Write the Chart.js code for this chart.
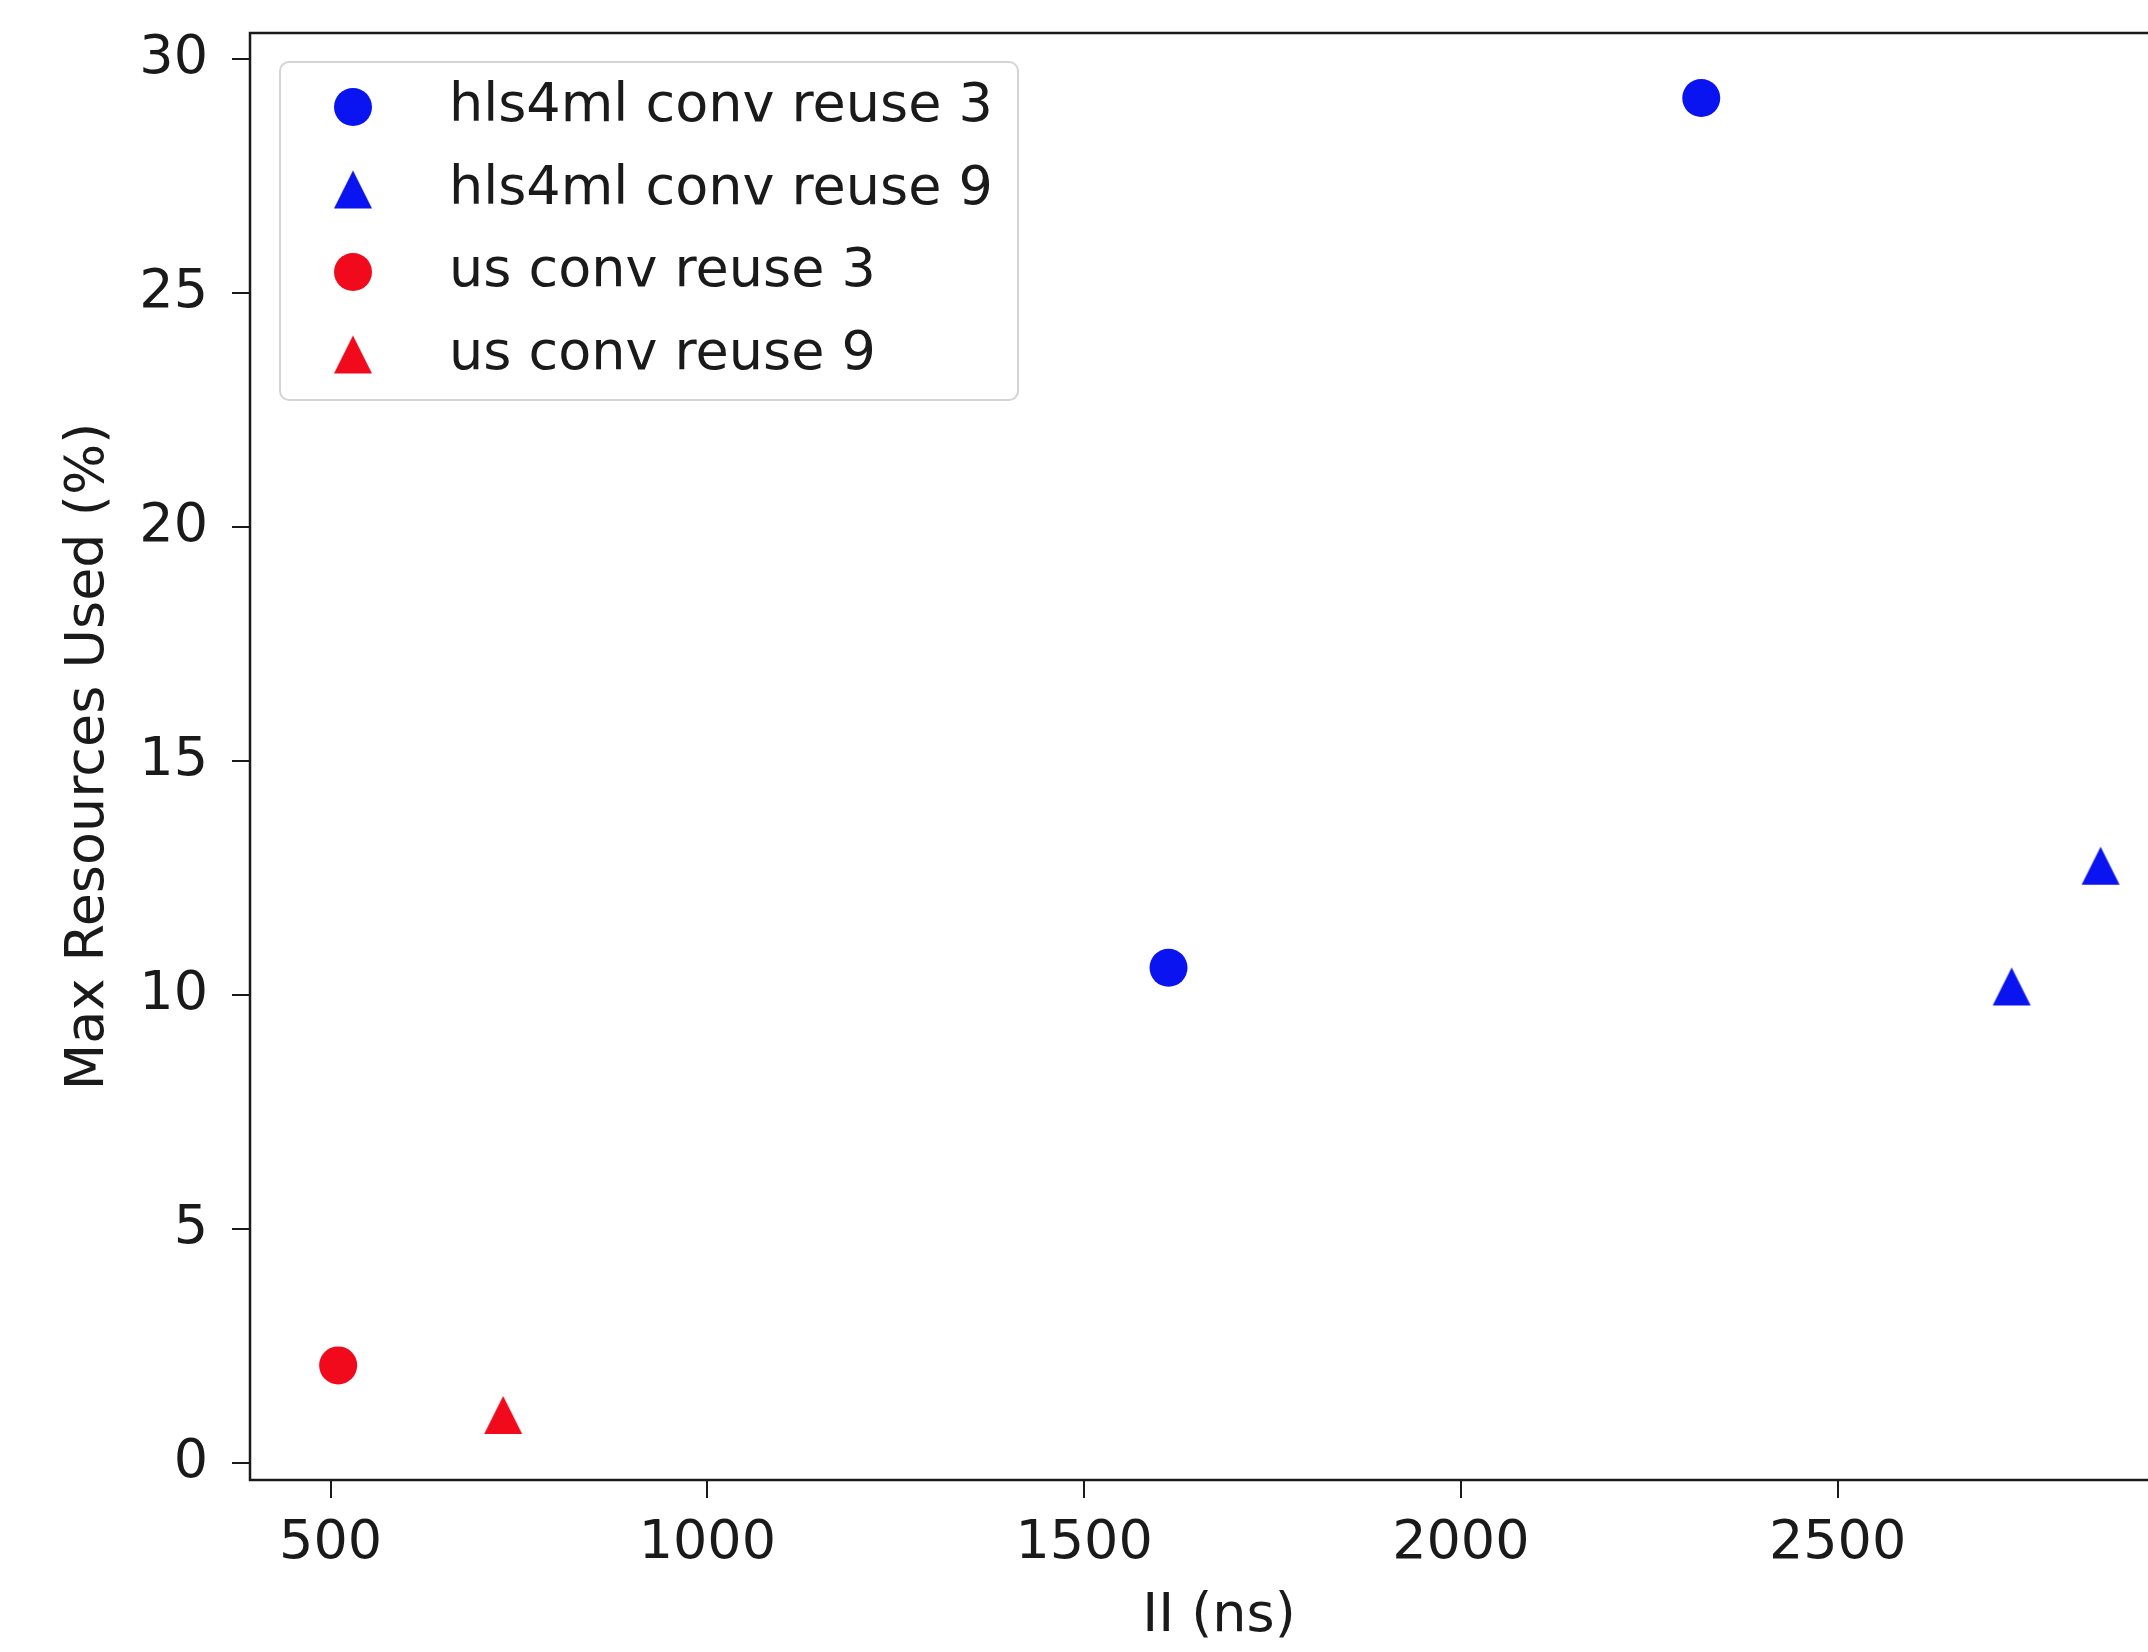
<!DOCTYPE html>
<html>
<head>
<meta charset="utf-8">
<script src="https://cdn.jsdelivr.net/npm/chart.js@4.4.0/dist/chart.umd.min.js"></script>
<style>
  html, body { margin: 0; padding: 0; background: #fff; overflow: hidden; }
  #wrap { width: 2148px; height: 1652px; overflow: hidden; }
  canvas { display: block; }
</style>
</head>
<body>
<div id="wrap"><canvas id="resources-chart" width="2260" height="1652"></canvas></div>
<script>
// values
const hlsReuse3X = [1612, 2319];
const hlsReuse3Y = [10.58, 29.17];
const hlsReuse9X = [2731, 2849];
const hlsReuse9Y = [10.18, 12.76];
const usReuse3X = [510];
const usReuse3Y = [2.08];
const usReuse9X = [729];
const usReuse9Y = [1.02];

const seriesLabels = ['hls4ml conv reuse 3', 'hls4ml conv reuse 9', 'us conv reuse 3', 'us conv reuse 9'];
const xTicks = [500, 1000, 1500, 2000, 2500];
const yTicks = [0, 5, 10, 15, 20, 25, 30];
const xTitle = 'II (ns)';
const yTitle = 'Max Resources Used (%)';

const blue = '#0a14f0';
const red = '#f00a1c';
const ink = '#1a1a1a';
const fontFamily = 'DejaVu Sans';
const fontSize = 54;

// matplotlib style '^' marker: as tall as it is wide, centred on the point
function makeTriangle(color) {
    const c = document.createElement('canvas');
    c.width = 40;
    c.height = 40;
    const g = c.getContext('2d');
    g.fillStyle = color;
    g.beginPath();
    g.moveTo(20, 1);
    g.lineTo(39, 39);
    g.lineTo(1, 39);
    g.closePath();
    g.fill();
    return c;
}

const toPoints = (xs, ys) => xs.map((x, i) => ({ x: x, y: ys[i] }));

const datasets = [
    { label: seriesLabels[0], data: toPoints(hlsReuse3X, hlsReuse3Y), pointStyle: 'circle', backgroundColor: blue },
    { label: seriesLabels[1], data: toPoints(hlsReuse9X, hlsReuse9Y), pointStyle: makeTriangle(blue), backgroundColor: blue },
    { label: seriesLabels[2], data: toPoints(usReuse3X, usReuse3Y), pointStyle: 'circle', backgroundColor: red },
    { label: seriesLabels[3], data: toPoints(usReuse9X, usReuse9Y), pointStyle: makeTriangle(red), backgroundColor: red },
].map(ds => Object.assign(ds, { pointRadius: 19, pointHoverRadius: 19, borderWidth: 0, showLine: false }));

// box round the plot area (matplotlib spines)
const frame = {
    id: 'frame',
    afterDraw(chart) {
        const { ctx, chartArea: a } = chart;
        ctx.save();
        ctx.strokeStyle = ink;
        ctx.lineWidth = 2.5;
        ctx.strokeRect(a.left, a.top, a.right - a.left, a.bottom - a.top);
        ctx.restore();
    }
};

// legend drawn inside the axes, upper left
const innerLegend = {
    id: 'innerLegend',
    afterDraw(chart) {
        const { ctx, chartArea: a } = chart;
        const left = a.left + 30;
        const top = a.top + 29;
        const width = 738;
        const rowH = 82.5;
        const height = 338;
        ctx.save();
        ctx.beginPath();
        ctx.roundRect(left, top, width, height, 9);
        ctx.fillStyle = 'rgba(255,255,255,0.8)';
        ctx.fill();
        ctx.strokeStyle = '#d4d4d4';
        ctx.lineWidth = 2;
        ctx.stroke();

        ctx.font = fontSize + 'px "' + fontFamily + '"';
        ctx.textBaseline = 'middle';
        ctx.textAlign = 'left';
        chart.data.datasets.forEach((ds, i) => {
            const cy = top + 45 + i * rowH;
            const cx = left + 73;
            if (typeof ds.pointStyle === 'object') {
                ctx.drawImage(ds.pointStyle, cx - 20, cy - 20);
            } else {
                ctx.beginPath();
                ctx.arc(cx, cy, 19, 0, Math.PI * 2);
                ctx.fillStyle = ds.backgroundColor;
                ctx.fill();
            }
            ctx.fillStyle = ink;
            ctx.fillText(ds.label, left + 169, cy);
        });
        ctx.restore();
    }
};

const tickFont = { family: fontFamily, size: fontSize };
const plainNumber = v => String(v);

new Chart(document.getElementById('resources-chart'), {
    type: 'scatter',
    data: { datasets: datasets },
    options: {
        responsive: false,
        animation: false,
        events: [],
        layout: { padding: { left: 0, top: 33, right: 72, bottom: 0 } },
        plugins: { legend: { display: false }, tooltip: { enabled: false } },
        scales: {
            x: {
                type: 'linear',
                min: 393,
                max: 2965,
                afterBuildTicks: s => { s.ticks = xTicks.map(v => ({ value: v })); },
                afterFit: s => { s.height = 172; s.paddingLeft = 0; s.paddingRight = 0; },
                ticks: { font: tickFont, color: ink, padding: 14, maxRotation: 0, autoSkip: false, callback: plainNumber },
                grid: { drawOnChartArea: false, drawTicks: true, tickLength: 18, color: ink, lineWidth: 2 },
                border: { display: false },
                title: { display: true, text: xTitle, font: tickFont, color: ink, padding: { top: 0, bottom: 3 } }
            },
            y: {
                type: 'linear',
                min: -0.37,
                max: 30.56,
                afterBuildTicks: s => { s.ticks = yTicks.map(v => ({ value: v })); },
                afterFit: s => { s.width = 250; s.paddingTop = 0; s.paddingBottom = 0; },
                ticks: { font: tickFont, color: ink, padding: 24, autoSkip: false, callback: plainNumber },
                grid: { drawOnChartArea: false, drawTicks: true, tickLength: 18, color: ink, lineWidth: 2 },
                border: { display: false },
                title: { display: true, text: yTitle, font: tickFont, color: ink, padding: { top: 57, bottom: 0 } }
            }
        }
    },
    plugins: [frame, innerLegend]
});
</script>
</body>
</html>
